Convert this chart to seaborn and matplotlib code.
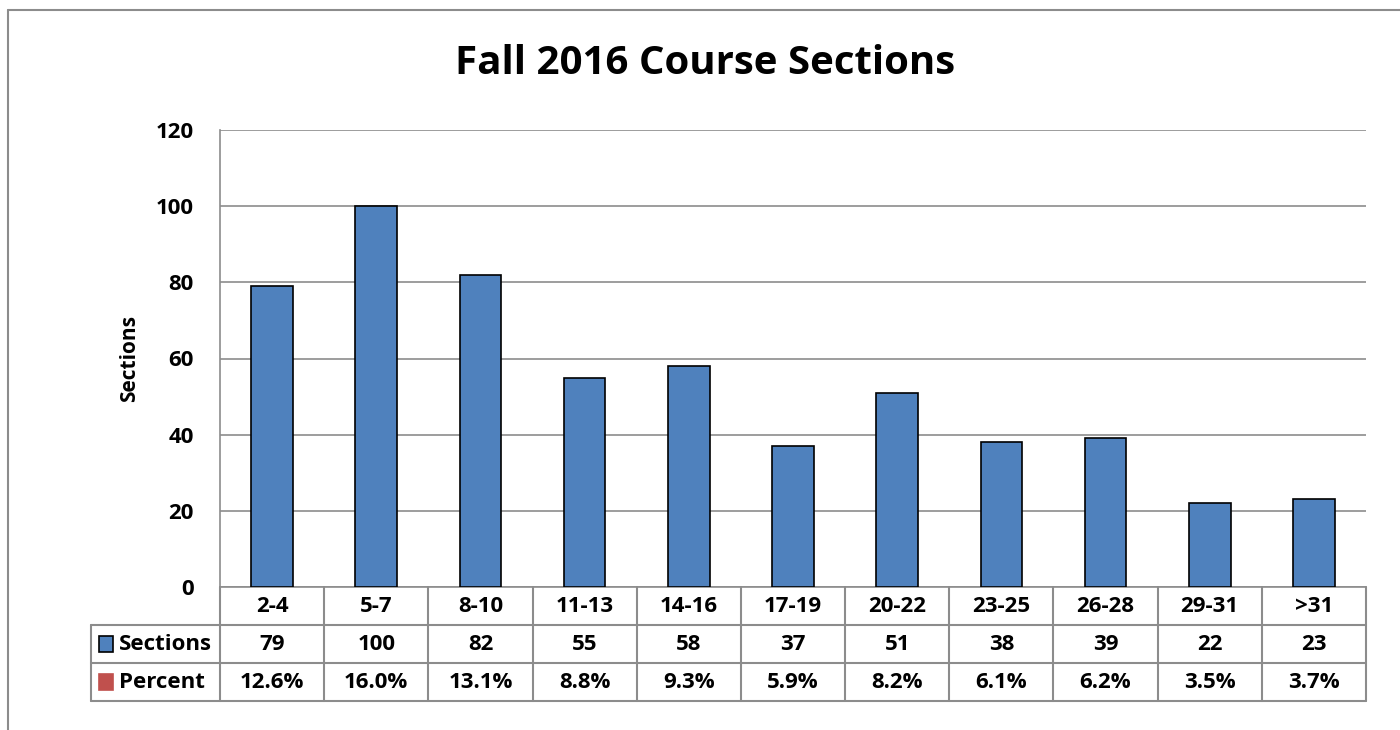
import matplotlib
matplotlib.use("Agg")
import matplotlib.pyplot as plt
import matplotlib.transforms as mtransforms
from matplotlib.lines import Line2D
from matplotlib.patches import Rectangle
import seaborn as sns
import pandas as pd

categories = ["2-4", "5-7", "8-10", "11-13", "14-16", "17-19", "20-22", "23-25", "26-28", "29-31", ">31"]
sections = [79, 100, 82, 55, 58, 37, 51, 38, 39, 22, 23]
percent = ["12.6%", "16.0%", "13.1%", "8.8%", "9.3%", "5.9%", "8.2%", "6.1%", "6.2%", "3.5%", "3.7%"]
yticks = [0, 20, 40, 60, 80, 100, 120]

sns.set_style("white")
plt.rcParams["font.family"] = ["Open Sans", "DejaVu Sans"]
plt.rcParams["font.weight"] = "bold"
plt.rcParams["text.color"] = "black"
plt.rcParams["axes.labelcolor"] = "black"
plt.rcParams["ytick.color"] = "black"

BLUE = "#4F81BD"
RED = "#C0504D"
GRID = "#8C8C8C"
FS = 16

df = pd.DataFrame({"Range": categories, "Sections": sections})

fig = plt.figure(figsize=(14, 7.3), dpi=100)
W, H = 1400, 730
L, R, T, B = 220, 1366, 130, 587
ax = fig.add_axes([L / W, (H - B) / H, (R - L) / W, (B - T) / H])

sns.barplot(data=df, x="Range", y="Sections", color=BLUE, edgecolor="black",
            linewidth=1.2, width=0.4, saturation=1, ax=ax, zorder=3)

ax.set_ylim(0, 120)
ax.set_xlim(-0.5, len(categories) - 0.5)
ax.set_yticks(yticks)
ax.set_yticklabels([str(v) for v in yticks], fontsize=FS, fontweight="bold", color="black")
ax.tick_params(axis="y", length=0, pad=19)
ax.tick_params(axis="x", length=0)
ax.set_xticks([])
ax.set_xlabel("")
ax.set_ylabel("Sections", fontsize=FS - 1, fontweight="bold", labelpad=11, color="black")
ax.grid(axis="y", color=GRID, linewidth=1.2, zorder=0)
for s in ["top", "right"]:
    ax.spines[s].set_visible(False)
for s in ["left", "bottom"]:
    ax.spines[s].set_color(GRID)
    ax.spines[s].set_linewidth(1.2)

# data table below the axes
rowh = 38 / (B - T)
trans = mtransforms.blended_transform_factory(ax.transData, ax.transAxes)
hdr_left = -0.5 - (L - 91) / ((R - L) / len(categories))
n = len(categories)
lw = 1.5
for k in (1, 2, 3):
    ax.add_line(Line2D([hdr_left, n - 0.5], [-k * rowh] * 2, transform=trans,
                       color=GRID, lw=lw, clip_on=False))
for i in range(n + 1):
    ax.add_line(Line2D([i - 0.5, i - 0.5], [0, -3 * rowh], transform=trans, color=GRID, lw=lw, clip_on=False))
ax.add_line(Line2D([hdr_left, hdr_left], [-rowh, -3 * rowh], transform=trans, color=GRID, lw=lw, clip_on=False))

for i, (c, s, p) in enumerate(zip(categories, sections, percent)):
    ax.text(i, -0.5 * rowh, c, transform=trans, ha="center", va="center", fontsize=FS, fontweight="bold")
    ax.text(i, -1.5 * rowh, str(s), transform=trans, ha="center", va="center", fontsize=FS, fontweight="bold")
    ax.text(i, -2.5 * rowh, p, transform=trans, ha="center", va="center", fontsize=FS, fontweight="bold")

key = 0.135
for k, (lab, col, ec) in enumerate([("Sections", BLUE, "black"), ("Percent", RED, RED)]):
    yc = -(1.5 + k) * rowh
    ax.add_patch(Rectangle((hdr_left + 0.08, yc - 0.2 * rowh), key, 0.4 * rowh, transform=trans,
                           facecolor=col, edgecolor=ec, lw=1.2, clip_on=False))
    ax.text(hdr_left + 0.08 + key + 0.05, yc, lab, transform=trans, ha="left", va="center",
            fontsize=FS, fontweight="bold")

fig.suptitle("Fall 2016 Course Sections", x=705 / W, y=1 - 64 / H, va="center",
             fontsize=29, fontweight="bold", color="black")

# outer chart frame
fig.add_artist(Line2D([8 / W, 8 / W], [0, 1 - 10 / H], color=GRID, lw=1.5))
fig.add_artist(Line2D([8 / W, 1], [1 - 10 / H, 1 - 10 / H], color=GRID, lw=1.5))

fig.savefig("out.png", dpi=100)
